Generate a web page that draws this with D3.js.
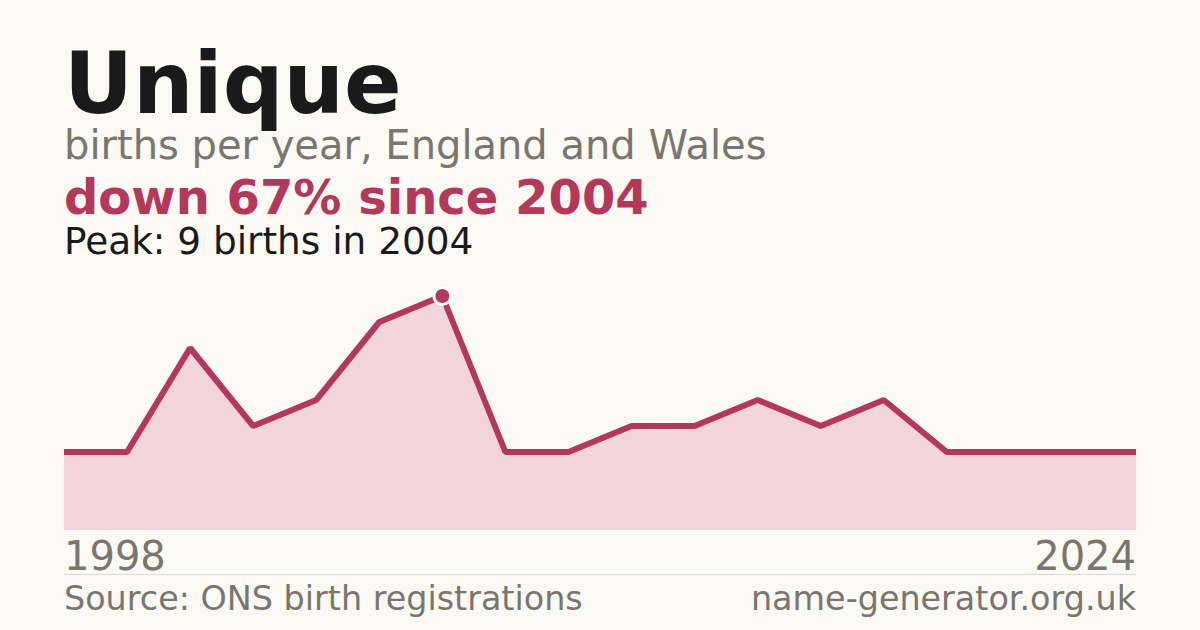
<!DOCTYPE html>
<html>
<head>
<meta charset="utf-8">
<script src="https://cdn.jsdelivr.net/npm/d3@7"></script>
<style>
  html, body { margin: 0; padding: 0; background: #faf9f4; }
  svg { display: block; font-family: "DejaVu Sans", sans-serif; }
</style>
</head>
<body>
<div class="vis-area"></div>
<script>
// years with registrations (only years with data are plotted, evenly spaced)
const years = [1998, 1999, 2000, 2001, 2002, 2003, 2004, 2005, 2006, 2008, 2009, 2011, 2013, 2015, 2016, 2019, 2021, 2024];
const births = [3, 3, 7, 4, 5, 8, 9, 3, 3, 4, 4, 5, 4, 5, 3, 3, 3, 3];
const title = "Unique";
const subtitle = "births per year, England and Wales";
const headline = "down 67% since 2004";
const peakNote = "Peak: 9 births in 2004";
const sourceText = "Source: ONS birth registrations";
const siteText = "name-generator.org.uk";

const width = 1200, height = 630;
const margin = { left: 64, right: 64 };
const crimson = "#b3385a";
const grey = "#7a766e";

const svg = d3.select(".vis-area")
    .append("svg")
    .attr("width", width)
    .attr("height", height);

svg.append("rect")
    .attr("width", width)
    .attr("height", height)
    .attr("fill", "#faf9f4");

// Header text
svg.append("text")
    .attr("x", margin.left).attr("y", 113)
    .attr("font-size", 85).attr("font-weight", "bold")
    .attr("fill", "#1a1a1a")
    .text(title);

svg.append("text")
    .attr("x", margin.left).attr("y", 159)
    .attr("font-size", 40)
    .attr("fill", grey)
    .text(subtitle);

svg.append("text")
    .attr("x", margin.left).attr("y", 214)
    .attr("font-size", 48).attr("font-weight", "bold")
    .attr("fill", crimson)
    .text(headline);

svg.append("text")
    .attr("x", margin.left).attr("y", 254)
    .attr("font-size", 37.4)
    .attr("fill", "#1a1a1a")
    .text(peakNote);

// Scales
const x = d3.scalePoint()
    .domain(d3.range(years.length))
    .range([margin.left, width - margin.right]);

const y = d3.scaleLinear()
    .domain([0, d3.max(births)])
    .range([530, 296]);

const area = d3.area()
    .x((d, i) => x(i))
    .y0(y(0))
    .y1(d => y(d));

const line = d3.line()
    .x((d, i) => x(i))
    .y(d => y(d));

svg.append("path")
    .datum(births)
    .attr("fill", "#f2d5db")
    .attr("d", area);

svg.append("path")
    .datum(births)
    .attr("fill", "none")
    .attr("stroke", crimson)
    .attr("stroke-width", 6)
    .attr("stroke-linejoin", "bevel")
    .attr("d", line);

// Peak marker
const peakIdx = births.indexOf(d3.max(births));
svg.append("circle")
    .attr("cx", x(peakIdx))
    .attr("cy", y(births[peakIdx]))
    .attr("r", 8.5)
    .attr("fill", crimson)
    .attr("stroke", "#ffffff")
    .attr("stroke-width", 3);

// Year labels
svg.append("text")
    .attr("x", margin.left).attr("y", 570)
    .attr("font-size", 40)
    .attr("fill", grey)
    .text(years[0]);

svg.append("text")
    .attr("x", width - margin.right).attr("y", 570)
    .attr("font-size", 40)
    .attr("text-anchor", "end")
    .attr("fill", grey)
    .text(years[years.length - 1]);

// Divider and footer
svg.append("line")
    .attr("x1", margin.left).attr("x2", width - margin.right)
    .attr("y1", 574.5).attr("y2", 574.5)
    .attr("stroke", "#dcdad4")
    .attr("stroke-width", 1);

svg.append("text")
    .attr("x", margin.left).attr("y", 610)
    .attr("font-size", 33.4)
    .attr("fill", grey)
    .text(sourceText);

svg.append("text")
    .attr("x", width - margin.right).attr("y", 610)
    .attr("font-size", 33.4)
    .attr("text-anchor", "end")
    .attr("fill", grey)
    .text(siteText);
</script>
</body>
</html>
